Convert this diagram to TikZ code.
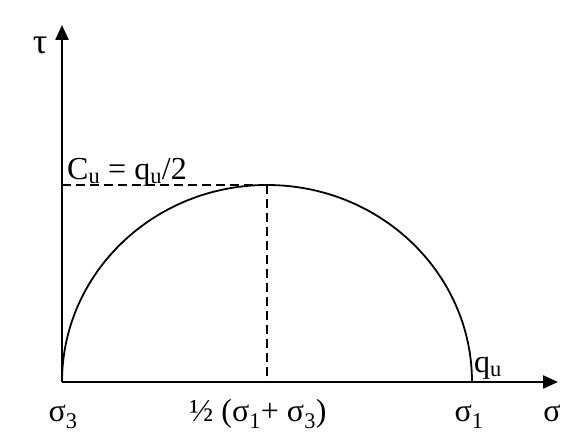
\documentclass[tikz,border=0pt]{standalone}
\usepackage{fontspec}
\setmainfont{Liberation Serif}
\usetikzlibrary{arrows.meta}
\newcommand{\sbx}[1]{\textsubscript{#1}}
\begin{document}
\begin{tikzpicture}[x=1pt,y=1pt,
  axis/.style={line width=2.3pt,-{Triangle[length=15pt,width=13pt]}},
  curve/.style={line width=1.8pt},
  guide/.style={line width=1.5pt,dash pattern=on 9pt off 5pt},
  lbl/.style={inner sep=0pt,font=\fontsize{32}{36}\selectfont}]
\useasboundingbox (0,0) rectangle (565,435);
\coordinate (O) at (62,53);
\coordinate (Ytop) at (62,410);
\coordinate (Xend) at (558,53);
\coordinate (Top) at (267,250);
\coordinate (Foot) at (267,53);
\coordinate (Left) at (62,250);
\draw[axis] (O) -- (Ytop);
\draw[axis] (O) -- (Xend);
\draw[curve] (O) arc[start angle=180,end angle=0,x radius=205,y radius=197];
\draw[guide] (Left) -- (Top);
\draw[guide] (Top) -- (Foot);
\node[lbl,font=\fontsize{36}{40}\selectfont] (tau) at (40,390) {τ};
\node[lbl,anchor=base west] (cu) at (67,255) {C\sbx{u} = q\sbx{u}/2};
\node[lbl,anchor=base] (s3) at (63,13) {σ\sbx{3}};
\node[lbl,anchor=base] (half) at (258,13) {½ (σ\sbx{1}+ σ\sbx{3})};
\node[lbl,anchor=base] (s1) at (469,13) {σ\sbx{1}};
\node[lbl,anchor=base] (s) at (552,13) {σ};
\node[lbl,anchor=base west] (qu) at (474,62) {q\sbx{u}};
\end{tikzpicture}
\end{document}
